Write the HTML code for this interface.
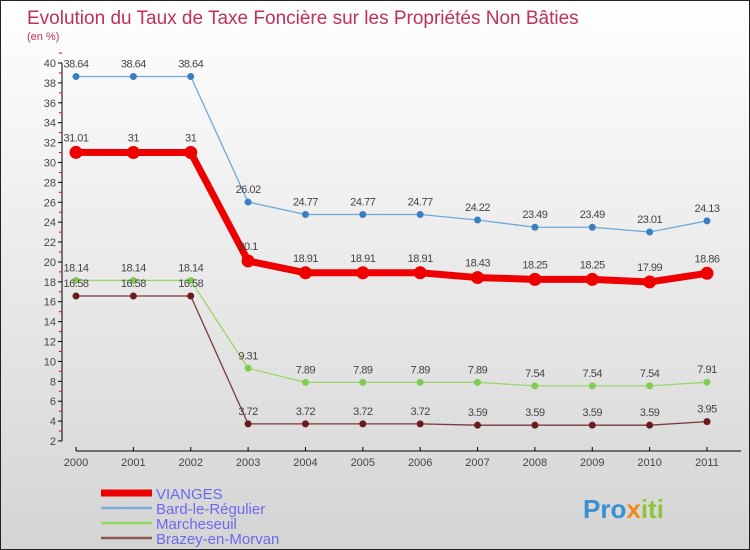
<!DOCTYPE html>
<html><head><meta charset="utf-8"><style>
body{margin:0;}
#c{width:750px;height:550px;position:relative;box-sizing:border-box;border:1px solid #222;background:linear-gradient(#ffffff,#d4d4d4);overflow:hidden;font-family:"Liberation Sans",sans-serif;}
</style></head><body>
<div id="c">
<svg id="s" width="748" height="548" xmlns="http://www.w3.org/2000/svg" style="position:absolute;left:0;top:0">
<text x="26" y="23" font-size="19" fill="#c0305a">Evolution du Taux de Taxe Foncière sur les Propriétés Non Bâties</text>
<text x="26" y="39" font-size="11" fill="#c0305a">(en %)</text>
<g id="axes"></g><g id="series"></g><g id="legend"></g>
<text x="582" y="517" font-size="26" font-weight="bold" fill="#3a8fd0">Pro<tspan fill="#f08a1c">x</tspan><tspan fill="#8cc43c">iti</tspan></text>
</svg>
</div>
<script>
const years=["2000","2001","2002","2003","2004","2005","2006","2007","2008","2009","2010","2011"];
const yTicks=[2,4,6,8,10,12,14,16,18,20,22,24,26,28,30,32,34,36,38,40];
const vianges=[31.01,31,31,20.1,18.91,18.91,18.91,18.43,18.25,18.25,17.99,18.86];
const bard=[38.64,38.64,38.64,26.02,24.77,24.77,24.77,24.22,23.49,23.49,23.01,24.13];
const marche=[18.14,18.14,18.14,9.31,7.89,7.89,7.89,7.89,7.54,7.54,7.54,7.91];
const brazey=[16.58,16.58,16.58,3.72,3.72,3.72,3.72,3.59,3.59,3.59,3.59,3.95];
const names=["VIANGES","Bard-le-Régulier","Marcheseuil","Brazey-en-Morvan"];
const NS="http://www.w3.org/2000/svg";
function X(i){return 75+i*(706-75)/(years.length-1);}
function Y(v){return 440-(v-2)*(440-62)/38;}
function mk(t,a,p){const e=document.createElementNS(NS,t);for(const k in a)e.setAttribute(k,a[k]);p.appendChild(e);return e;}
const ax=document.getElementById('axes');
const yl=mk('line',{x1:61,y1:62,x2:61,y2:440,stroke:'#000'},ax);


yTicks.forEach(v=>{
 mk('line',{x1:57,x2:61,y1:Y(v),y2:Y(v),stroke:'#000'},ax);
 mk('line',{x1:58,x2:61,y1:Y(v+1),y2:Y(v+1),stroke:'#e00'},ax);
 const t=mk('text',{x:55,y:Y(v)+4,'font-size':11,'text-anchor':'end',fill:'#444'},ax);t.textContent=v;
 
 
});
const xl=mk('line',{x1:75,y1:450,x2:740,y2:450,stroke:'#000'},ax);


years.forEach((y,i)=>{
 mk('line',{x1:X(i),x2:X(i),y1:446,y2:450,stroke:'#000'},ax);
 const t=mk('text',{x:X(i),y:465,'font-size':11,'text-anchor':'middle',fill:'#444'},ax);t.textContent=y;
 
 
});
const sg=document.getElementById('series');
function series(data,color,lw,r,dot,name,lblOff){
 const g=mk('g',{},sg);
 
 
 mk('polyline',{points:data.map((v,i)=>X(i)+','+Y(v)).join(' '),fill:'none',stroke:color,'stroke-width':lw,'stroke-linejoin':'round'},g);
 data.forEach((v,i)=>{
  const c=mk('circle',{cx:X(i),cy:Y(v),r:r,fill:dot},g);
  
  
  const t=mk('text',{x:X(i),y:Y(v)-lblOff,'font-size':11,'text-anchor':'middle',fill:'#444','letter-spacing':'-0.5'},g);
  t.textContent=String(v);
  
  
 });
}
series(bard,'#6fa8d8',1.3,3.5,'#3a80c0','series-bard',9);
series(marche,'#99d66a',1.3,3.5,'#80cc50','series-marcheseuil',9);
series(brazey,'#7a3a3a',1.3,3.5,'#6a1c1c','series-brazey',9);
series(vianges,'#ee0000',7,6.5,'#ee0000','series-vianges',11);
const lg=document.getElementById('legend');
const lc=['#ee0000','#7fb0d8','#99d66a','#8a5a5a'],lw=[7,2.5,2.5,2.5];
names.forEach((n,i)=>{
 const y=492+i*15;
 const g=mk('g',{},lg);
 
 
 mk('line',{x1:100,x2:151,y1:y,y2:y,stroke:lc[i],'stroke-width':lw[i]},g);
 const t=mk('text',{x:155,y:y+6,'font-size':15,fill:'#6a6aee'},g);t.textContent=n;
});
</script>
</body></html>
